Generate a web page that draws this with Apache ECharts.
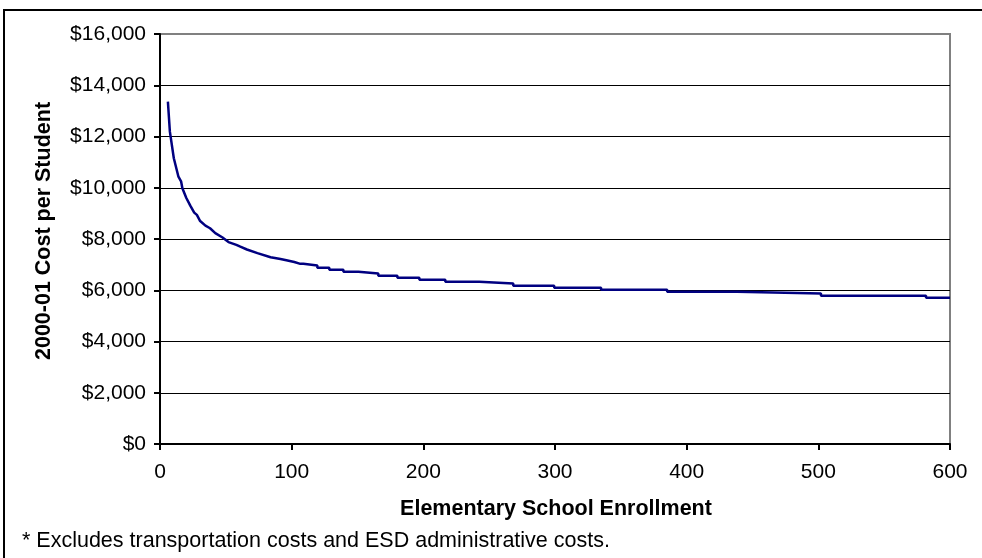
<!DOCTYPE html>
<html>
<head>
<meta charset="utf-8">
<script src="https://cdn.jsdelivr.net/npm/echarts@6/dist/echarts.min.js"></script>
<style>
  html, body { margin: 0; padding: 0; background: #fff; }
  #chart { width: 982px; height: 558px; }
</style>
</head>
<body>
<div id="chart"></div>
<script>
// Elementary school enrollment (students) and 2000-01 cost per student ($).
// Beyond ~100 students the cost moves in flat steps, so each step is listed by its first and last enrollment.
const enrollment = [
  6, 7.5, 10.5, 14, 16, 17, 18, 20, 23, 26, 28, 30.5, 34.5, 38, 42, 47.5, 52, 58, 61, 66, 74, 84, 91.5, 96, 102,
  106.6, 108.9, 108.9, 119.5, 119.5, 128.6, 128.6, 139.3, 139.3, 150.7, 150.7, 165.8, 165.8, 180.3, 180.3, 197,
  197, 216.7, 216.7, 242.5, 242.5, 268.3, 268.3, 299.4, 299.4, 335, 335, 385.2, 385.2, 438.4, 438.4, 502,
  502, 581.8, 581.8, 600
];
const costPerStudent = [
  13360, 12190, 11150, 10430, 10250, 9980, 9910, 9600, 9300, 9030, 8940, 8700, 8520, 8420, 8230, 8060, 7880, 7770, 7700, 7590, 7450, 7290, 7220, 7170, 7100,
  7030, 7030, 6970, 6970, 6880, 6880, 6800, 6800, 6720, 6720, 6650, 6650, 6570, 6570, 6490, 6490,
  6410, 6410, 6330, 6330, 6260, 6260, 6180, 6180, 6100, 6100, 6020, 6020, 5940, 5940, 5870, 5870,
  5790, 5790, 5710, 5710
];

const xTicks = { min: 0, max: 600, step: 100 };
const yTicks = { min: 0, max: 16000, step: 2000 };

const FONT = '"Liberation Sans", Arial, sans-serif';
const FS = 21;
const TITLE_FS = 21.5;

const chart = echarts.init(document.getElementById('chart'), null, { renderer: 'canvas' });

chart.setOption({
  animation: false,
  backgroundColor: '#fff',
  grid: {
    left: 160, right: 32, top: 34, bottom: 114,
    show: true, borderColor: '#808080', borderWidth: 2, backgroundColor: 'transparent'
  },
  xAxis: {
    type: 'value',
    min: xTicks.min, max: xTicks.max, interval: xTicks.step,
    axisLine: { show: true, onZero: false, lineStyle: { color: '#000', width: 2 } },
    axisTick: { show: true, inside: false, length: 6, lineStyle: { color: '#000', width: 2 } },
    axisLabel: { color: '#000', fontSize: FS, fontFamily: FONT, margin: 18 },
    splitLine: { show: false }
  },
  yAxis: {
    type: 'value',
    min: yTicks.min, max: yTicks.max, interval: yTicks.step,
    axisLine: { show: true, lineStyle: { color: '#000', width: 2 } },
    axisTick: { show: true, inside: false, length: 6, lineStyle: { color: '#000', width: 2 } },
    axisLabel: {
      color: '#000', fontSize: FS, fontFamily: FONT, margin: 14,
      formatter: v => '$' + v.toLocaleString('en-US')
    },
    splitLine: { show: true, showMinLine: false, showMaxLine: false, lineStyle: { color: '#000', width: 1 } }
  },
  series: [{
    type: 'line',
    data: enrollment.map((n, i) => [n, costPerStudent[i]]),
    showSymbol: false,
    sampling: null,
    lineStyle: { color: '#000080', width: 2.5 },
    z: 5
  }],
  graphic: [
    {
      type: 'rect',
      shape: { x: 4, y: 10, width: 1000, height: 600 },
      style: { fill: 'none', stroke: '#000', lineWidth: 2 },
      silent: true
    },
    {
      type: 'text',
      x: 44, y: 231, rotation: Math.PI / 2,
      style: {
        text: '2000-01 Cost per Student',
        font: 'bold ' + TITLE_FS + 'px ' + FONT,
        fill: '#000', textAlign: 'center', textVerticalAlign: 'middle'
      }
    },
    {
      type: 'text',
      x: 556, y: 509,
      style: {
        text: 'Elementary School Enrollment',
        font: 'bold ' + TITLE_FS + 'px ' + FONT,
        fill: '#000', textAlign: 'center', textVerticalAlign: 'middle'
      }
    },
    {
      type: 'text',
      x: 22, y: 541,
      style: {
        text: '* Excludes transportation costs and ESD administrative costs.',
        font: TITLE_FS + 'px ' + FONT,
        fill: '#000', textAlign: 'left', textVerticalAlign: 'middle'
      }
    }
  ]
});
</script>
</body>
</html>
